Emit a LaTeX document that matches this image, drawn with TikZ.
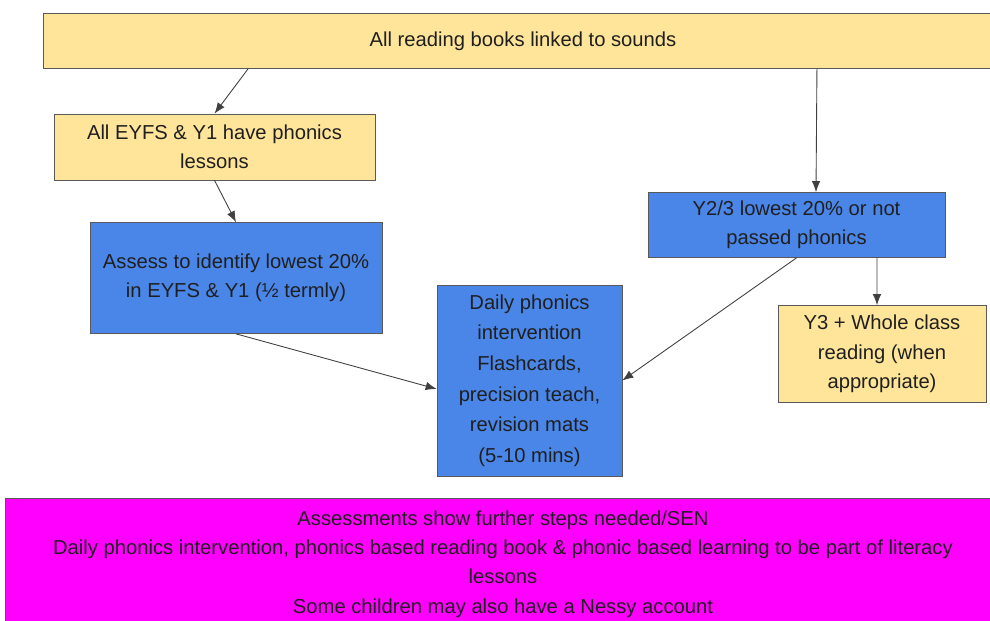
\documentclass[tikz,border=0pt]{standalone}
\usepackage{fontspec}
\setmainfont{Liberation Sans}
\usetikzlibrary{arrows.meta}
\definecolor{paleyellow}{HTML}{FFE599}
\definecolor{cornblue}{HTML}{4A86E8}
\definecolor{brightmagenta}{HTML}{FF00FF}
\definecolor{edgegray}{HTML}{595959}
\definecolor{inkdark}{HTML}{1F1F1F}
\begin{document}
\begin{tikzpicture}[x=0.02cm, y=-0.02cm,
		every node/.style={draw=edgegray, line width=0.4pt, align=center, text=inkdark, inner sep=2pt,
			font=\fontsize{11.5}{16.7}\selectfont},
		yellowbox/.style={fill=paleyellow},
		bluebox/.style={fill=cornblue},
		pinkbox/.style={fill=brightmagenta},
		flow/.style={draw=black!75, line width=0.5pt, -{Latex[length=2.2mm, width=1.7mm]}}]
		\useasboundingbox (0,0) rectangle (990,621);
		% \draw[help lines] (0,0) grid (990,621);

		\node[yellowbox, minimum width=19.2cm, minimum height=1.1cm] (books) at (523,41) {All reading books linked to sounds};
		\node[yellowbox, minimum width=6.42cm, minimum height=1.32cm] (eyfs) at (214.5,147) {All EYFS \& Y1 have phonics\\lessons};
		\node[bluebox, minimum width=5.84cm, minimum height=2.22cm] (assess) at (236,278) {Assess to identify lowest 20\%\\in EYFS \& Y1 (½ termly)};
		\node[bluebox, minimum width=3.7cm, minimum height=3.82cm, font=\fontsize{11.5}{17.4}\selectfont] (daily) at (529.5,380.5) {Daily phonics\\intervention\\Flashcards,\\precision teach,\\revision mats\\(5-10 mins)};
		\node[bluebox, minimum width=5.94cm, minimum height=1.3cm] (lowest) at (796.5,225) {Y2/3 lowest 20\% or not\\passed phonics};
		\node[yellowbox, minimum width=4.16cm, minimum height=1.94cm] (wholeclass) at (882,354) {Y3 + Whole class\\reading (when\\appropriate)};
		\node[pinkbox, minimum width=19.9cm, minimum height=2.64cm] (sen) at (503,564) {Assessments show further steps needed/SEN\\Daily phonics intervention, phonics based reading book \& phonic based learning to be part of literacy\\lessons\\Some children may also have a Nessy account};

		\draw[flow] ([xshift=-5.5cm]books.south) -- (eyfs.north);
		\draw[flow] ([xshift=5.88cm]books.south) -- ([xshift=0.39cm]lowest.north);
		\draw[flow] (eyfs.south) -- (assess.north);
		\draw[flow] (assess.south) -- ([yshift=-0.17cm]daily.west);
		\draw[flow] (lowest.south) -- (daily.east);
		\draw[flow] ([xshift=1.61cm]lowest.south) -- ([xshift=-0.1cm]wholeclass.north);
	\end{tikzpicture}
\end{document}
